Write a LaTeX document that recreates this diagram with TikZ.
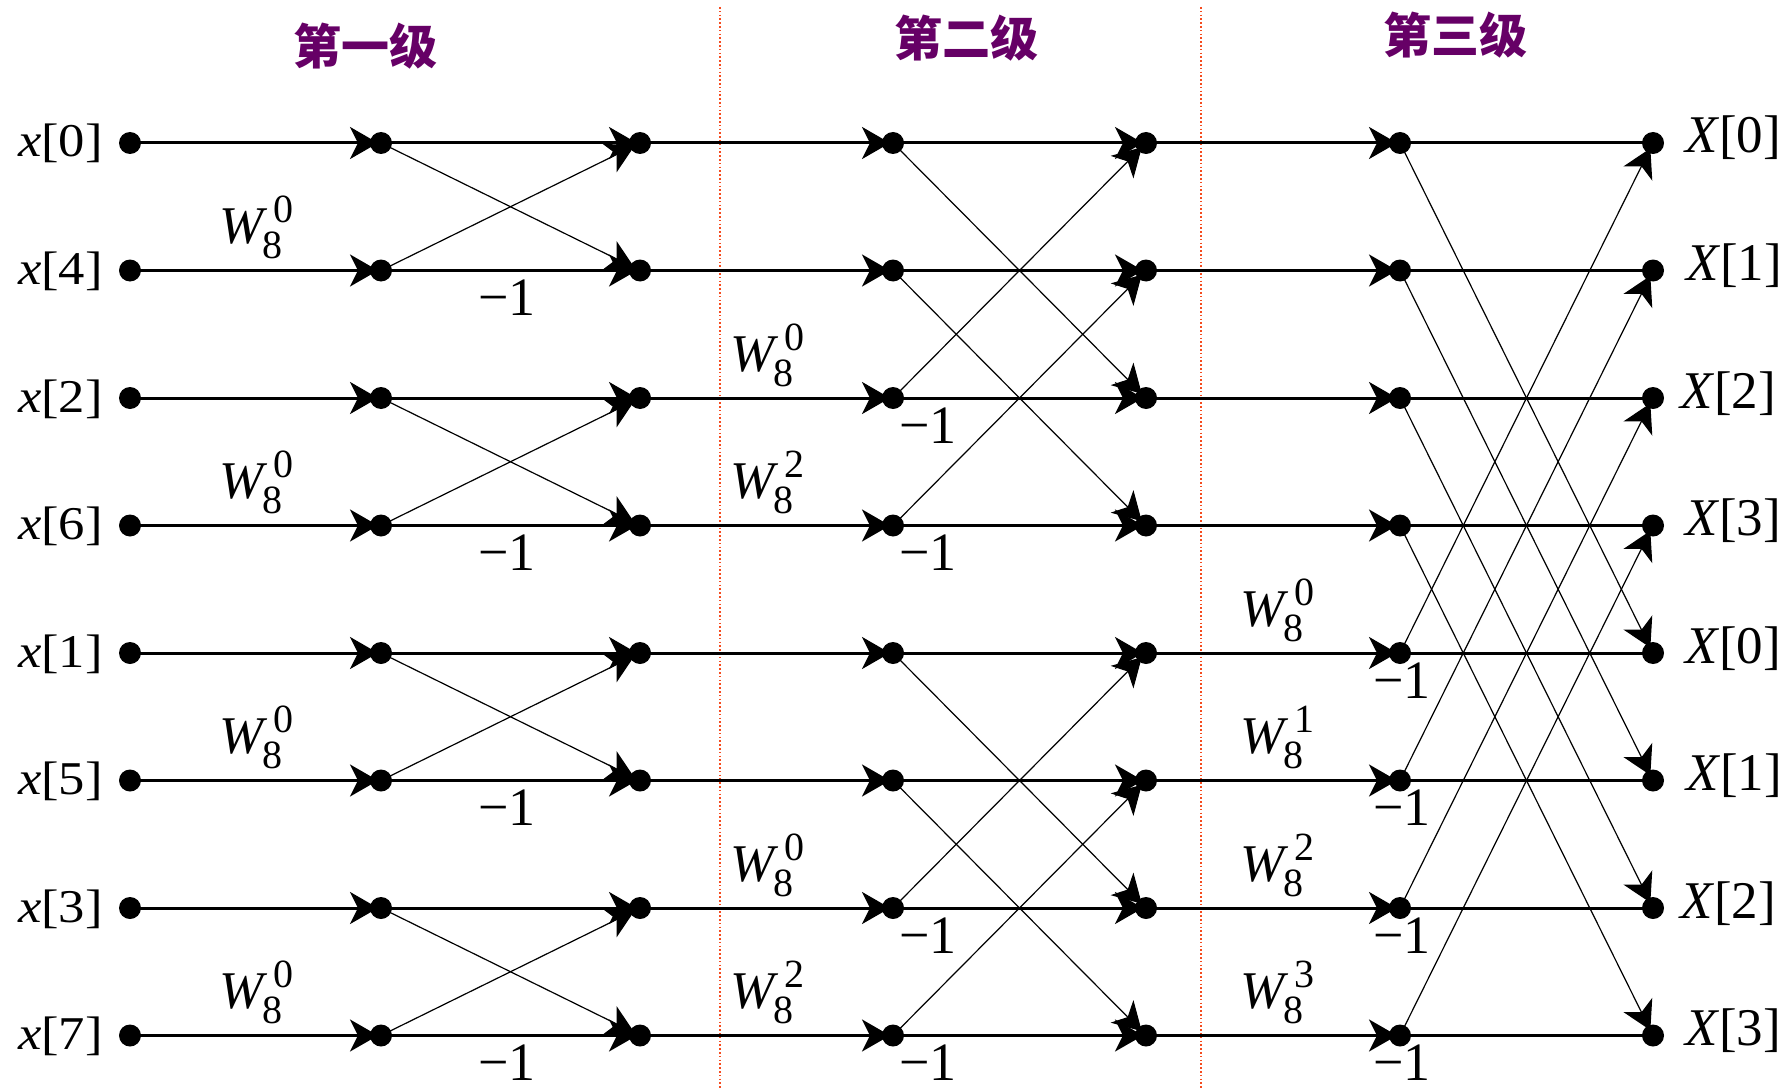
\documentclass[tikz,border=0pt]{standalone}
\usepackage{fontspec}
\setmainfont{Liberation Serif}
\newfontfamily\inlabelfont{Liberation Serif}[FakeStretch=1.12]
\newfontfamily\cjk{Noto Sans CJK SC}
\usetikzlibrary{arrows.meta,backgrounds}
\definecolor{stagepurple}{RGB}{102,0,102}
\definecolor{divider}{RGB}{245,75,30}
% twiddle factor W_8^k: subscript lowered, superscript raised and shifted right
\newcommand\scriptdigits{\fontsize{40}{44}\selectfont}
\newcommand\tw[1]{\textit{W}\kern-5pt\rlap{\raisebox{-15pt}{\scriptdigits 8}}\kern11pt\raisebox{21pt}{\scriptdigits #1}}
\begin{document}
\begin{tikzpicture}[x=1pt,y=-1pt,
  dot/.style={circle,fill=black,inner sep=0pt,minimum size=22pt},
  tip/.style={-{Stealth[length=28pt,width=32pt,inset=8pt]}},
  flow/.style={line width=3pt,tip,shorten >=3pt},
  plain/.style={line width=3pt},
  cross/.style={line width=1.2pt,tip,shorten >=6pt},
  divline/.style={divider,line width=1.6pt,dash pattern=on 1.6pt off 2.2pt},
  inlabel/.style={anchor=base east,inner sep=0pt,font=\inlabelfont\fontsize{47}{52}\selectfont},
  outlabel/.style={anchor=base west,inner sep=0pt,font=\fontsize{53}{58}\selectfont},
  twl/.style={anchor=base west,inner sep=0pt,font=\fontsize{53}{58}\selectfont},
  neg/.style={anchor=base,inner sep=0pt,text depth=0pt,font=\fontsize{54}{58}\selectfont},
  title/.style={inner sep=0pt,text=stagepurple,font=\cjk\bfseries\fontsize{48}{52}\selectfont}]
\useasboundingbox (0,0) rectangle (1786,1089);

% stage titles
\node[title] (t1) at (365,46) {第一级};
\node[title] (t2) at (966,38) {第二级};
\node[title] (t3) at (1455,35) {第三级};

% nodes of the flow graph
\foreach \r in {0,...,7} {
  \pgfmathsetmacro\yy{143+127.5*\r}
  \node[dot] (in\r) at (130,\yy) {};
  \node[dot] (a\r) at (381,\yy) {};
  \node[dot] (b\r) at (640,\yy) {};
  \node[dot] (c\r) at (893,\yy) {};
  \node[dot] (d\r) at (1146,\yy) {};
  \node[dot] (e\r) at (1400,\yy) {};
  \node[dot] (out\r) at (1653,\yy) {};
}

\begin{scope}[on background layer]
  % stage dividers
  \draw[divline] (720,7) -- (720,1089);
  \draw[divline] (1201,7) -- (1201,1089);
  % horizontal branches
  \foreach \r in {0,...,7} {
    \draw[flow] (in\r.center) -- (a\r.center);
    \draw[flow] (a\r.center) -- (b\r.center);
    \draw[flow] (b\r.center) -- (c\r.center);
    \draw[flow] (c\r.center) -- (d\r.center);
    \draw[flow] (d\r.center) -- (e\r.center);
    \draw[plain] (e\r.center) -- (out\r.center);
  }
  % butterflies, stage 1
  \foreach \p/\q in {0/1,2/3,4/5,6/7} {
    \draw[cross] (a\p.center) -- (b\q.center);
    \draw[cross] (a\q.center) -- (b\p.center);
  }
  % butterflies, stage 2
  \foreach \p/\q in {0/2,1/3,4/6,5/7} {
    \draw[cross] (c\p.center) -- (d\q.center);
    \draw[cross] (c\q.center) -- (d\p.center);
  }
  % butterflies, stage 3
  \foreach \p/\q in {0/4,1/5,2/6,3/7} {
    \draw[cross] (e\p.center) -- (out\q.center);
    \draw[cross] (e\q.center) -- (out\p.center);
  }
\end{scope}

% input and output sequences
\foreach \r/\n in {0/0,1/4,2/2,3/6,4/1,5/5,6/3,7/7} {
  \pgfmathsetmacro\yy{143+127.5*\r+14}
  \node[inlabel] (xl\r) at (103,\yy) {\textit{x}[\n]};
}
\foreach \r/\n/\xx in {0/0/1685,1/1/1686,2/2/1680,3/3/1685,4/0/1685,5/1/1686,6/2/1680,7/3/1685} {
  \pgfmathsetmacro\yy{143+127.5*\r+10}
  \node[outlabel] (Xl\r) at (\xx,\yy) {\textit{X}[\n]};
}

% twiddle factors and -1 multipliers
\foreach \r in {1,3,5,7} {
  \pgfmathsetmacro\ya{143+127.5*\r-27}
  \pgfmathsetmacro\yb{143+127.5*\r+45}
  \node[twl] (wa\r) at (219,\ya) {\tw{0}};
  \node[neg] (na\r) at (507,\yb) {−1};
}
\foreach \r/\k in {2/0,3/2,6/0,7/2} {
  \pgfmathsetmacro\ya{143+127.5*\r-27}
  \pgfmathsetmacro\yb{143+127.5*\r+45}
  \node[twl] (wb\r) at (730,\ya) {\tw{\k}};
  \node[neg] (nb\r) at (928,\yb) {−1};
}
\foreach \r/\k in {4/0,5/1,6/2,7/3} {
  \pgfmathsetmacro\ya{143+127.5*\r-27}
  \pgfmathsetmacro\yb{143+127.5*\r+45}
  \node[twl] (wc\r) at (1240,\ya) {\tw{\k}};
  \node[neg] (nc\r) at (1402,\yb) {−1};
}
\end{tikzpicture}
\end{document}
